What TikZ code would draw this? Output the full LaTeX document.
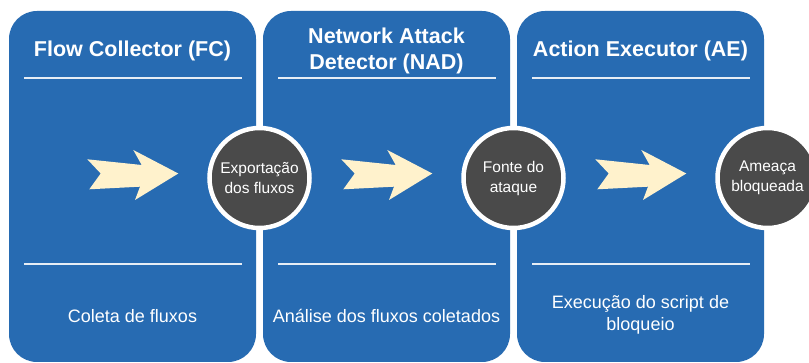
\documentclass[tikz,border=0pt]{standalone}
\usepackage{fontspec}
\setmainfont{Liberation Sans}
\definecolor{panelblue}{HTML}{276BB2}
\definecolor{stagegray}{HTML}{4A4A4A}
\definecolor{arrowcream}{HTML}{FFF2CC}
\definecolor{rulewhite}{HTML}{E6EDF5}
\tikzset{
  panel/.style={rectangle, fill=panelblue, rounded corners=28pt, minimum width=247pt, minimum height=351pt, inner sep=0pt},
  title/.style={text=white, font=\bfseries\fontsize{21.5}{26}\selectfont, align=center, inner sep=0pt},
  desc/.style={text=white, font=\fontsize{18}{22}\selectfont, align=center, inner sep=0pt},
  stage/.style={circle, fill=stagegray, draw=white, line width=4.5pt, minimum size=100pt, inner sep=0pt, text=white, font=\fontsize{15.5}{20}\selectfont, align=center},
  hrule/.style={draw=rulewhite, line width=2pt},
  flowarrow/.style={fill=arrowcream}
}
\begin{document}
\begin{tikzpicture}[x=1pt,y=-1pt]
\useasboundingbox (0,0) rectangle (809,363);
\clip (0,0) rectangle (809,363);
\fill[white] (0,0) rectangle (809,363);
% panels
\node[panel] (p1) at (132.5,186.5) {};
\node[panel] (p2) at (386.5,186.5) {};
\node[panel] (p3) at (640.5,186.5) {};
% titles
\node[title] (t1) at (132.5,51) {Flow Collector (FC)};
\node[title] (t2) at (386.5,51) {Network Attack\\Detector (NAD)};
\node[title] (t3) at (640.5,51) {Action Executor (AE)};
% rules
\foreach \dx in {0,254,508}{
  \draw[hrule] (24+\dx,78) -- (242+\dx,78);
  \draw[hrule] (24+\dx,264) -- (242+\dx,264);
  \fill[flowarrow] (87.3+\dx,159.3) -- (100.7+\dx,173.5) -- (89.3+\dx,189.3) -- (140+\dx,186.7)
     -- (135+\dx,200) -- (178.3+\dx,173.5) -- (133.3+\dx,150) -- (141.7+\dx,165) -- cycle;
}
% descriptions
\node[desc] (d1) at (132.5,316) {Coleta de fluxos};
\node[desc] (d2) at (386.5,316) {Análise dos fluxos coletados};
\node[desc] (d3) at (640.5,315) {Execução do script de\\bloqueio};
% stage circles
\node[stage] (c1) at (259.5,178) {Exportação\\dos fluxos};
\node[stage] (c2) at (513.5,178) {Fonte do\\ataque};
\node[stage] (c3) at (767.5,178) {Ameaça\\bloqueada};
\end{tikzpicture}
\end{document}
